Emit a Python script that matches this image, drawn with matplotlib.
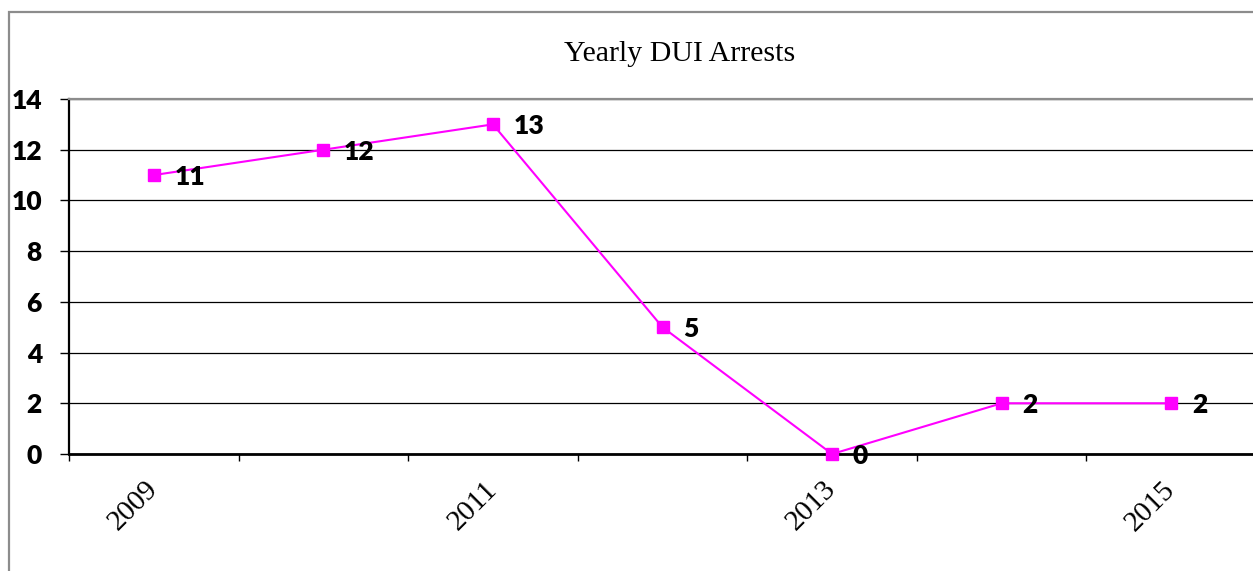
import matplotlib
matplotlib.use("Agg")
import matplotlib.pyplot as plt
from matplotlib.patches import Rectangle
from matplotlib.ticker import FixedLocator, NullFormatter
import matplotlib.transforms as mtransforms

years = ["2009", "2010", "2011", "2012", "2013", "2014", "2015"]
arrests = [11, 12, 13, 5, 0, 2, 2]
shown_labels = ["2009", "", "2011", "", "2013", "", "2015"]
title = "Yearly DUI Arrests"

W, H = 1253, 571
fig = plt.figure(figsize=(W / 100, H / 100), dpi=100)

border = Rectangle((8.5 / W, -0.1), 1.2, (1 - 11.5 / H) + 0.1, transform=fig.transFigure,
                   fill=False, edgecolor="#8c8c8c", linewidth=1.6, clip_on=False)
fig.patches.append(border)

ax = fig.add_axes([69 / W, 117 / H, (1256 - 69) / W, (454 - 99) / H])
x = list(range(len(years)))

ax.set_xlim(-0.5, len(years) - 0.5)
ax.set_ylim(0, 14)

ax.spines["right"].set_visible(False)
ax.spines["top"].set_color("#8c8c8c")
ax.spines["top"].set_linewidth(1.6)
ax.spines["left"].set_linewidth(1.6)
ax.spines["left"].set_color("#000000")
ax.spines["bottom"].set_linewidth(2.0)
ax.spines["bottom"].set_color("#000000")

label_font = ["Lato", "DejaVu Sans"]

ax.set_yticks(range(0, 15, 2))
ax.yaxis.grid(True, color="#000000", linewidth=0.9)
ax.set_axisbelow(True)
ax.tick_params(axis="y", length=6.5, width=1.0, pad=13, labelsize=19)
for lab in ax.get_yticklabels():
    lab.set_fontfamily(label_font)
    lab.set_fontweight("heavy")

ax.xaxis.set_minor_locator(FixedLocator([i - 0.5 for i in range(len(years) + 1)]))
ax.xaxis.set_minor_formatter(NullFormatter())
ax.set_xticks(x)
ax.set_xticklabels(shown_labels, rotation=45, ha="right", va="top",
                   fontfamily="Liberation Serif", fontsize=21)
ax.tick_params(axis="x", which="major", length=0, pad=16)
ax.tick_params(axis="x", which="minor", length=5, width=1.0, direction="out")
offset = mtransforms.ScaledTranslation(9 / 100, 0, fig.dpi_scale_trans)
for lab in ax.get_xticklabels():
    lab.set_transform(lab.get_transform() + offset)

ax.plot(x, arrests, color="#ff00ff", linewidth=1.5, marker="s",
        markersize=8.5, markerfacecolor="#ff00ff", markeredgecolor="#ff00ff",
        clip_on=False, zorder=5)

for xi, v in zip(x, arrests):
    ax.annotate(str(v), (xi, v), xytext=(15, -1.5), textcoords="offset points",
                ha="left", va="center", fontsize=19, fontweight="heavy",
                fontfamily=label_font, color="#000000",
                annotation_clip=False, zorder=6)

fig.text(680 / W, (H - 61) / H, title, ha="center", va="baseline",
         fontfamily="Liberation Serif", fontsize=21.5, color="#000000")

fig.savefig("out.png", dpi=100)
